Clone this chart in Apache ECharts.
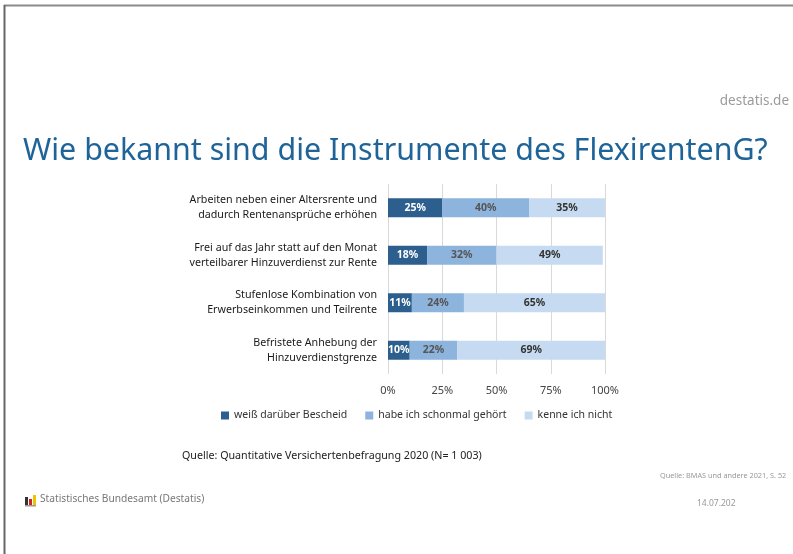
<!DOCTYPE html>
<html>
<head>
<meta charset="utf-8">
<script src="https://cdn.jsdelivr.net/npm/echarts@6/dist/echarts.min.js"></script>
<style>
  html, body { margin: 0; padding: 0; background: #fff; }
  #chart { width: 793px; height: 554px; }
</style>
</head>
<body>
<div id="chart"></div>
<script>
// categories (top to bottom)
const categories = [
  'Arbeiten neben einer Altersrente und\ndadurch Rentenansprüche erhöhen',
  'Frei auf das Jahr statt auf den Monat\nverteilbarer Hinzuverdienst zur Rente',
  'Stufenlose Kombination von\nErwerbseinkommen und Teilrente',
  'Befristete Anhebung der\nHinzuverdienstgrenze'
]
// percent values per answer
const weissBescheid = [25, 18, 11, 10]
const schonGehoert = [40, 32, 24, 22]
const kenneNicht = [35, 49, 65, 69]
const seriesNames = ['weiß darüber Bescheid', 'habe ich schonmal gehört', 'kenne ich nicht']
const xTicks = [0, 25, 50, 75, 100]

const colors = ['#2c5e8e', '#8db4dd', '#c6dbf1']
const font = 'Noto Sans'

const chart = echarts.init(document.getElementById('chart'))

function barSeries(name, data, idx, labelColor) {
  return {
    name: name,
    type: 'bar',
    stack: 'total',
    data: data,
    barWidth: 19,
    itemStyle: { color: colors[idx] },
    label: {
      show: true,
      formatter: '{c}%',
      color: labelColor,
      fontFamily: font,
      fontSize: 10.5,
      fontWeight: 'bold'
    }
  }
}

chart.setOption({
  animation: false,
  textStyle: { fontFamily: font },
  title: {
    text: 'Wie bekannt sind die Instrumente des FlexirentenG?',
    left: 18,
    top: 131,
    textStyle: { color: '#1f6499', fontSize: 30.4, fontWeight: 'normal', fontFamily: font }
  },
  grid: { left: 388, right: 188, top: 184, bottom: 180 },
  xAxis: {
    type: 'value',
    min: 0,
    max: 100,
    interval: 25,
    axisLine: { show: false },
    axisTick: { show: false },
    splitLine: { lineStyle: { color: '#d9d9d9' } },
    axisLabel: {
      margin: 11,
      color: '#444',
      fontSize: 11,
      formatter: v => (xTicks.includes(v) ? v + '%' : '')
    }
  },
  yAxis: {
    type: 'category',
    inverse: true,
    data: categories,
    axisLine: { show: false },
    axisTick: { show: false },
    axisLabel: { margin: 11, color: '#1a1a1a', fontSize: 10.7, lineHeight: 15, align: 'right' }
  },
  legend: {
    left: 216,
    top: 405,
    itemWidth: 8,
    itemHeight: 8,
    itemGap: 18,
    icon: 'rect',
    textStyle: { color: '#333', fontSize: 10.5 },
    data: seriesNames
  },
  series: [
    barSeries(seriesNames[0], weissBescheid, 0, '#fff'),
    barSeries(seriesNames[1], schonGehoert, 1, '#555'),
    barSeries(seriesNames[2], kenneNicht, 2, '#333')
  ],
  graphic: [
    // slide frame
    { type: 'line', shape: { x1: 4, y1: 5.5, x2: 793, y2: 5.5 }, style: { stroke: '#8a8a8a', lineWidth: 2 } },
    { type: 'line', shape: { x1: 4.5, y1: 5, x2: 4.5, y2: 554 }, style: { stroke: '#666', lineWidth: 2 } },
    { type: 'text', right: 4, top: 94, style: { text: 'destatis.de', fill: '#9a9a9a', font: '13.5px "Noto Sans"' } },
    { type: 'text', left: 182, top: 450, style: { text: 'Quelle: Quantitative Versichertenbefragung 2020 (N= 1 003)', fill: '#222', font: '10.7px "Noto Sans"' } },
    { type: 'text', left: 660, top: 472, style: { text: 'Quelle: BMAS und andere 2021, S. 52', fill: '#999', font: '7.3px "Noto Sans"' } },
    // logo bars
    { type: 'rect', shape: { x: 25, y: 497, width: 3, height: 8 }, style: { fill: '#333' } },
    { type: 'rect', shape: { x: 29, y: 499, width: 3, height: 6 }, style: { fill: '#d4202a' } },
    { type: 'rect', shape: { x: 33, y: 495, width: 3, height: 10 }, style: { fill: '#f2c200' } },
    { type: 'rect', shape: { x: 25, y: 505, width: 11, height: 1.5 }, style: { fill: '#999' } },
    { type: 'text', left: 40, top: 494, style: { text: 'Statistisches Bundesamt (Destatis)', fill: '#777', font: '10.2px "Noto Sans"' } },
    { type: 'text', left: 697, top: 499, style: { text: '14.07.202', fill: '#999', font: '8.5px "Noto Sans"' } }
  ]
})
</script>
</body>
</html>
